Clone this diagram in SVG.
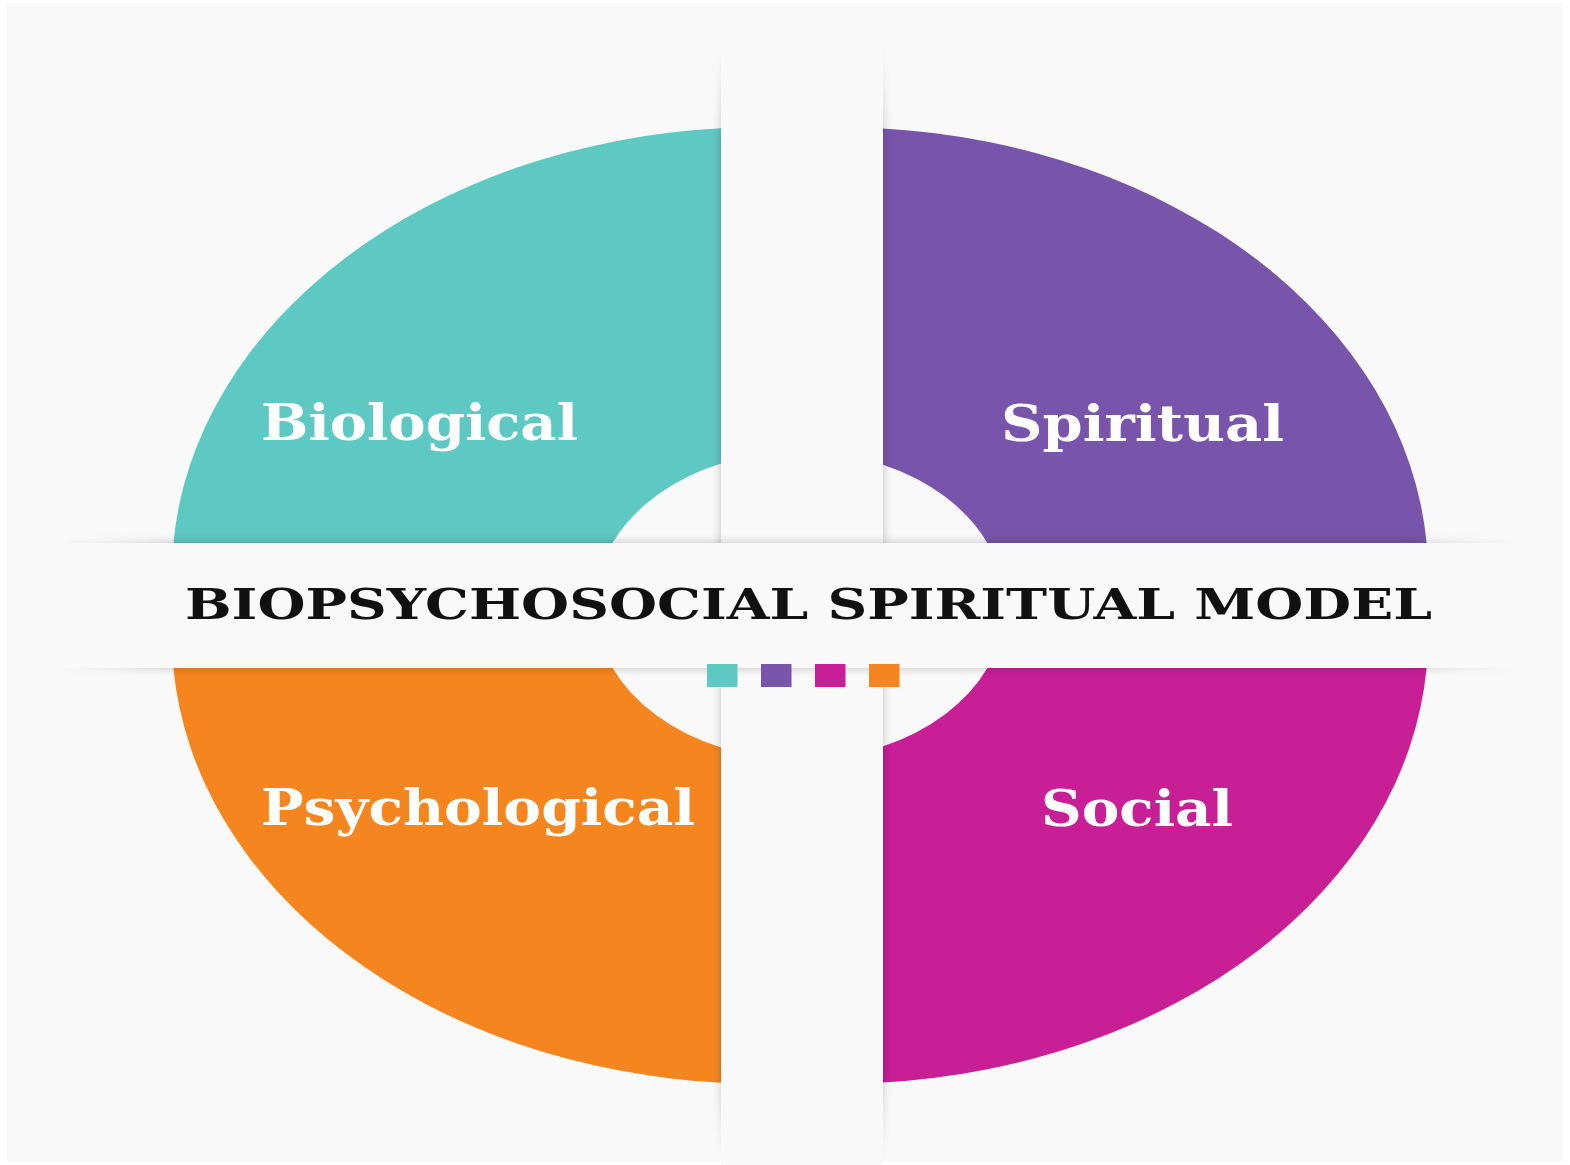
<svg xmlns="http://www.w3.org/2000/svg" width="1570" height="1165" viewBox="0 0 1570 1165">
  <style>
    .label { font-family: "DejaVu Serif", "Liberation Serif", serif; font-weight: bold; fill: #ffffff; font-size: 50px; }
    .title { font-family: "DejaVu Serif", "Liberation Serif", serif; font-weight: bold; fill: #111111; font-size: 43px; }
    .band { fill: #f9f9f9; }
  </style>
  <defs>
    <filter id="soft" filterUnits="userSpaceOnUse" x="0" y="0" width="1570" height="1165">
      <feGaussianBlur stdDeviation="5"/>
    </filter>
    <linearGradient id="vfade" x1="0" y1="0" x2="0" y2="1">
      <stop offset="0" stop-color="#000" stop-opacity="0"/>
      <stop offset="0.08" stop-color="#000" stop-opacity="0.24"/>
      <stop offset="0.92" stop-color="#000" stop-opacity="0.24"/>
      <stop offset="1" stop-color="#000" stop-opacity="0"/>
    </linearGradient>
    <linearGradient id="hfade" x1="0" y1="0" x2="1" y2="0">
      <stop offset="0" stop-color="#000" stop-opacity="0"/>
      <stop offset="0.08" stop-color="#000" stop-opacity="0.24"/>
      <stop offset="0.92" stop-color="#000" stop-opacity="0.24"/>
      <stop offset="1" stop-color="#000" stop-opacity="0"/>
    </linearGradient>
  </defs>

  <rect x="0" y="0" width="1570" height="1165" fill="#ffffff"/>
  <rect x="7" y="3" width="1556" height="1158" fill="#f9f9f9"/>

  <g id="biological">
    <path d="M 721 128.3 A 589.5 448 0 0 0 173.4 543 L 612.6 543 A 205 154 0 0 1 721 463.4 Z" fill="#5ec8c2"/>
  </g>
  <g id="spiritual">
    <path d="M 883 128.6 A 589.5 448 0 0 1 1426.6 543 L 987.4 543 A 205 154 0 0 0 883 464.7 Z" fill="#7854aa"/>
  </g>
  <g id="social">
    <path d="M 883 1082.4 A 589.5 448 0 0 0 1426.6 668 L 987.4 668 A 205 154 0 0 1 883 746.3 Z" fill="#c81e96"/>
  </g>
  <g id="psychological">
    <path d="M 721 1082.7 A 589.5 448 0 0 1 173.4 668 L 612.6 668 A 205 154 0 0 0 721 747.6 Z" fill="#f5851e"/>
  </g>

  <g id="cross">
    <rect x="721" y="50" width="162" height="1110" fill="url(#vfade)" filter="url(#soft)"/>
    <rect class="band" x="721" y="40" width="162" height="1125"/>
    <rect x="60" y="543" width="1455" height="125" fill="url(#hfade)" filter="url(#soft)"/>
    <rect class="band" x="40" y="543" width="1490" height="125"/>
  </g>

  <g id="labels">
    <text class="label" x="261" y="440" textLength="317" lengthAdjust="spacingAndGlyphs">Biological</text>
    <text class="label" x="1001" y="441" textLength="283" lengthAdjust="spacingAndGlyphs">Spiritual</text>
    <text class="label" x="261" y="825" textLength="434" lengthAdjust="spacingAndGlyphs">Psychological</text>
    <text class="label" x="1041" y="826" textLength="192" lengthAdjust="spacingAndGlyphs">Social</text>
  </g>

  <g id="title">
    <text class="title" x="185" y="619" textLength="1247" lengthAdjust="spacingAndGlyphs">BIOPSYCHOSOCIAL SPIRITUAL MODEL</text>
  </g>

  <g id="legend-squares">
    <rect x="707" y="664" width="30.5" height="23" fill="#5ec8c2"/>
    <rect x="761" y="664" width="30.5" height="23" fill="#7854aa"/>
    <rect x="815" y="664" width="30.5" height="23" fill="#c81e96"/>
    <rect x="869" y="664" width="30.5" height="23" fill="#f5851e"/>
  </g>
</svg>
